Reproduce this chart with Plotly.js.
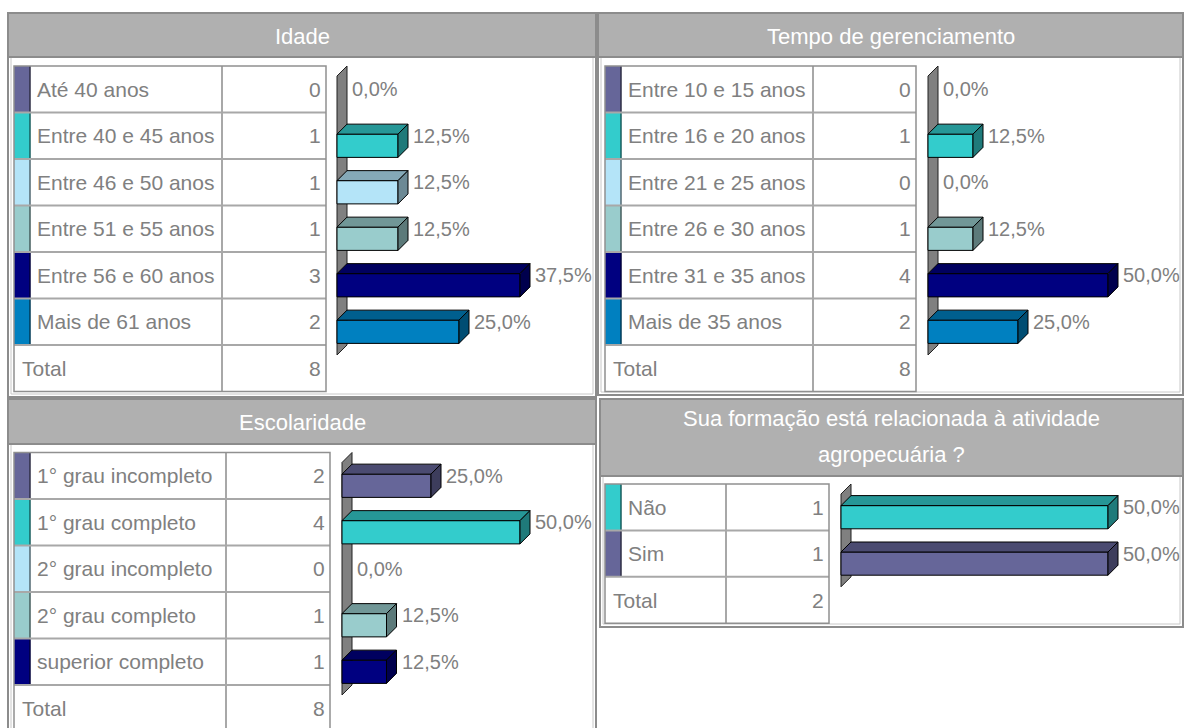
<!DOCTYPE html>
<html><head><meta charset="utf-8">
<script src="https://cdn.plot.ly/plotly-3.0.1.min.js"></script>
<style>html,body{margin:0;padding:0;background:#fff;}</style>
</head><body>
<div id="chart" style="width:1184px;height:728px;"></div>
<script>
// ---------------- DATA ----------------
const idadeCategories = ["Até 40 anos","Entre 40 e 45 anos","Entre 46 e 50 anos","Entre 51 e 55 anos","Entre 56 e 60 anos","Mais de 61 anos"];
const idadeCounts = [0,1,1,1,3,2];
const tempoCategories = ["Entre 10 e 15 anos","Entre 16 e 20 anos","Entre 21 e 25 anos","Entre 26 e 30 anos","Entre 31 e 35 anos","Mais de 35 anos"];
const tempoCounts = [0,1,0,1,4,2];
const escolaridadeCategories = ["1° grau incompleto","1° grau completo","2° grau incompleto","2° grau completo","superior completo"];
const escolaridadeCounts = [2,4,0,1,1];
const formacaoCategories = ["Não","Sim"];
const formacaoCounts = [1,1];
const idadeTitle = ["Idade"];
const tempoTitle = ["Tempo de gerenciamento"];
const escolaridadeTitle = ["Escolaridade"];
const formacaoTitle = ["Sua formação está relacionada à atividade","agropecuária ?"];
const totalLabel = "Total";

// ---------------- STYLE ----------------
const SLATE="#666699", TEAL="#33cccc", LIGHT="#b4e4f8", PALE="#99cccc", NAVY="#000080", BLUE="#0080c0";
const W=1184, H=728;
const X = p => p/W, Y = p => 1 - p/H;
const FONT = "Liberation Sans, Arial, sans-serif";
const TXT = "#808080";
function shade(hex,f){const n=parseInt(hex.slice(1),16);return `rgb(${Math.round(((n>>16)&255)*f)},${Math.round(((n>>8)&255)*f)},${Math.round((n&255)*f)})`;}

const panels = [
 {cats:idadeCategories, counts:idadeCounts, title:idadeTitle, colors:[SLATE,TEAL,LIGHT,PALE,NAVY,BLUE],
  box:[8,13,596,397], head:[8,13,596,57], titleY:[36],
  tbl:{l:14,t:66,sw:16,c1:222,c2:326,rh:46.5}, ch:{wx:337,ft:76,pp:4.88,xe:590}},
 {cats:tempoCategories, counts:tempoCounts, title:tempoTitle, colors:[SLATE,TEAL,LIGHT,PALE,NAVY,BLUE],
  box:[598,13,1183,395], head:[598,13,1183,57], titleY:[36],
  tbl:{l:605,t:66,sw:16,c1:813,c2:916,rh:46.5}, ch:{wx:928,ft:76,pp:3.6,xe:1180}},
 {cats:escolaridadeCategories, counts:escolaridadeCounts, title:escolaridadeTitle, colors:[SLATE,TEAL,LIGHT,PALE,NAVY],
  box:[8,399,596,745], head:[8,399,596,444], titleY:[422],
  tbl:{l:14,t:452.5,sw:16,c1:226,c2:330,rh:46.5}, ch:{wx:342,ft:462.5,pp:3.56,xe:590}},
 {cats:formacaoCategories, counts:formacaoCounts, title:formacaoTitle, colors:[TEAL,SLATE],
  box:[600,399,1183,627], head:[600,399,1183,476], titleY:[419,454],
  tbl:{l:605,t:484,sw:16,c1:726,c2:829,rh:46.4}, ch:{wx:841,ft:494,pp:5.34,xe:1180}}
];

const data=[], shapes=[], annotations=[];
const layout = {width:W, height:H, margin:{l:0,r:0,t:0,b:0}, paper_bgcolor:"#fff", plot_bgcolor:"rgba(0,0,0,0)", showlegend:false};

panels.forEach((P,k)=>{
  const ax = k===0 ? "" : String(k+1);
  const xa="x"+ax, ya="y"+ax;
  const n=P.cats.length, T=P.tbl, C=P.ch, rh=T.rh;
  const total = P.counts.reduce((a,b)=>a+b,0);
  const pct = P.counts.map(c=>c*100/total);

  // panel frame + header
  shapes.push({type:"rect",xref:"paper",yref:"paper",layer:"below",x0:X(P.box[0]),x1:X(P.box[2]),y0:Y(P.box[3]),y1:Y(P.box[1]),fillcolor:"#fff",line:{color:"#8c8c8c",width:2}});
  shapes.push({type:"rect",xref:"paper",yref:"paper",layer:"below",x0:X(P.box[0]+3),x1:X(P.box[2]-3),y0:Y(P.box[3]-3),y1:Y(P.head[3]),fillcolor:"rgba(0,0,0,0)",line:{color:"#c8c8c8",width:1}});
  shapes.push({type:"rect",xref:"paper",yref:"paper",layer:"below",x0:X(P.head[0]),x1:X(P.head[2]),y0:Y(P.head[3]),y1:Y(P.head[1]),fillcolor:"#b0b0b0",line:{color:"#8c8c8c",width:2}});
  P.title.forEach((t,j)=>annotations.push({xref:"paper",yref:"paper",x:X((P.head[0]+P.head[2])/2),y:Y(P.titleY[j]),text:t,showarrow:false,xanchor:"center",yanchor:"middle",font:{family:FONT,size:22,color:"#ffffff"}}));

  // table
  for(let i=0;i<n;i++){
    const y0=T.t+i*rh, y1=T.t+(i+1)*rh;
    shapes.push({type:"rect",xref:"paper",yref:"paper",layer:"below",x0:X(T.l),x1:X(T.l+T.sw),y0:Y(y1),y1:Y(y0),fillcolor:P.colors[i],line:{width:0}});
    shapes.push({type:"line",xref:"paper",yref:"paper",layer:"below",x0:X(T.l+T.sw),x1:X(T.l+T.sw),y0:Y(y1),y1:Y(y0),line:{color:shade(P.colors[i],0.45),width:1.5}});
    annotations.push({xref:"paper",yref:"paper",x:X(T.l+T.sw+5),y:Y((y0+y1)/2),text:P.cats[i],showarrow:false,xanchor:"left",yanchor:"middle",font:{family:FONT,size:21,color:TXT}});
    annotations.push({xref:"paper",yref:"paper",x:X(T.c2-3),y:Y((y0+y1)/2),text:String(P.counts[i]),showarrow:false,xanchor:"right",yanchor:"middle",font:{family:FONT,size:21,color:TXT}});
  }
  const yt0=T.t+n*rh, yt1=T.t+(n+1)*rh;
  annotations.push({xref:"paper",yref:"paper",x:X(T.l+6),y:Y((yt0+yt1)/2),text:totalLabel,showarrow:false,xanchor:"left",yanchor:"middle",font:{family:FONT,size:21,color:TXT}});
  annotations.push({xref:"paper",yref:"paper",x:X(T.c2-3),y:Y((yt0+yt1)/2),text:String(total),showarrow:false,xanchor:"right",yanchor:"middle",font:{family:FONT,size:21,color:TXT}});
  for(let i=1;i<=n;i++){
    const yy=T.t+i*rh;
    shapes.push({type:"line",xref:"paper",yref:"paper",layer:"below",x0:X(T.l),x1:X(T.c2),y0:Y(yy),y1:Y(yy),line:{color:"#a8a8a8",width:2}});
  }
  shapes.push({type:"line",xref:"paper",yref:"paper",layer:"below",x0:X(T.c1),x1:X(T.c1),y0:Y(yt1),y1:Y(T.t),line:{color:"#a8a8a8",width:2}});
  shapes.push({type:"rect",xref:"paper",yref:"paper",layer:"below",x0:X(T.l),x1:X(T.c2),y0:Y(yt1),y1:Y(T.t),fillcolor:"rgba(0,0,0,0)",line:{color:"#909090",width:1.5}});

  // chart axes
  const dxPx=10, dyPx=10;
  const dx=dxPx/C.pp, dy=dyPx/rh;
  layout["xaxis"+ax]={domain:[X(C.wx-3),X(C.xe)],range:[-3/C.pp,(C.xe-C.wx)/C.pp],anchor:ya,visible:false,fixedrange:true};
  layout["yaxis"+ax]={domain:[Y(C.ft+n*rh+3),Y(C.ft-dyPx-3)],range:[n-0.5+3/rh,-0.5-(dyPx+3)/rh],anchor:xa,visible:false,fixedrange:true};

  // back wall
  shapes.push({type:"path",xref:xa,yref:ya,layer:"below",path:`M 0,-0.5 L ${dx},${-0.5-dy} L ${dx},${n-0.5-dy} L 0,${n-0.5} Z`,fillcolor:"#808080",line:{color:"#202020",width:1}});

  const idx=P.cats.map((_,i)=>i);
  data.push({type:"bar",orientation:"h",x:pct,y:idx,width:0.5,xaxis:xa,yaxis:ya,
    marker:{color:P.colors,line:{color:"#000",width:pct.map(v=>v>0?1:0)}},hoverinfo:"skip",showlegend:false});

  pct.forEach((v,i)=>{
    const yT=i-0.25, yB=i+0.25;
    if(v>0){
      shapes.push({type:"path",xref:xa,yref:ya,path:`M 0,${yT} L ${v},${yT} L ${v+dx},${yT-dy} L ${dx},${yT-dy} Z`,fillcolor:shade(P.colors[i],0.74),line:{color:"#000",width:1}});
      shapes.push({type:"path",xref:xa,yref:ya,path:`M ${v},${yT} L ${v+dx},${yT-dy} L ${v+dx},${yB-dy} L ${v},${yB} Z`,fillcolor:shade(P.colors[i],0.6),line:{color:"#000",width:1}});
    }
    annotations.push({xref:xa,yref:ya,x:v+dx,y:i-dy,text:v.toFixed(1).replace(".",",")+"%",showarrow:false,xanchor:"left",yanchor:"middle",xshift:3,font:{family:FONT,size:20,color:TXT}});
  });
});

layout.shapes=shapes;
layout.annotations=annotations;
Plotly.newPlot("chart",data,layout,{staticPlot:true,displayModeBar:false});
</script>
</body></html>
